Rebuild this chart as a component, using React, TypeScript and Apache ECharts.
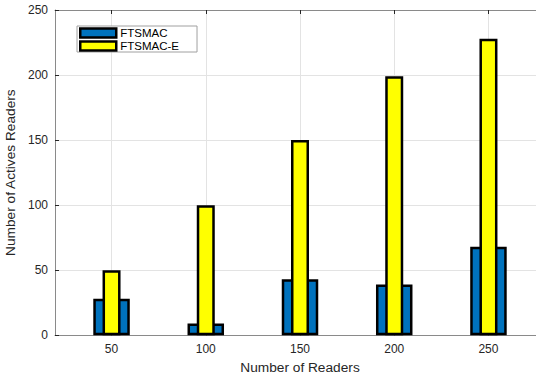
import React, { useEffect, useRef } from "react";
import * as echarts from "echarts";

const readers = [50, 100, 150, 200, 250];
const ftsmac = [28, 9, 43, 39, 68];
const ftsmacE = [50, 100, 150, 199, 228];

const FONT = "'Liberation Sans', Arial, Helvetica, sans-serif";

export default function App() {
  const ref = useRef<HTMLDivElement>(null);
  useEffect(() => {
    if (!ref.current) return;
    const chart = echarts.init(ref.current, null, { renderer: "svg" });
    const axisColor = "#8a8a8a";
    const gridColor = "#e3e3e3";
    chart.setOption({
      animation: false,
      backgroundColor: "#ffffff",
      textStyle: { fontFamily: FONT },
      grid: { left: 55, top: 10, right: -9, bottom: 40.7, containLabel: false, outerBoundsMode: "none" },
      legend: {
        orient: "vertical",
        left: 77,
        top: 26,
        padding: [1, 18, 0, 2],
        itemGap: 1,
        itemWidth: 36,
        itemHeight: 9,
        itemStyle: { borderColor: "#000", borderWidth: 2.5 },
        backgroundColor: "#ffffff",
        borderColor: "#a0a0a0",
        borderWidth: 1,
        borderRadius: 0,
        textStyle: { fontSize: 11.5, color: "#000", fontFamily: FONT, padding: [0, 0, 0, -1] },
        data: [
          { name: "FTSMAC", icon: "rect" },
          { name: "FTSMAC-E", icon: "rect" },
        ],
      },
      xAxis: [
        {
          type: "value",
          min: 20,
          max: 280,
          position: "bottom",
          name: "Number of Readers",
          nameLocation: "middle",
          nameGap: 24,
          nameTextStyle: { fontSize: 13.7, color: "#262626", fontFamily: FONT },
          axisLine: { show: true, lineStyle: { color: axisColor, width: 1 } },
          axisTick: { show: true, inside: true, length: 4, customValues: readers, lineStyle: { color: "#262626" } },
          axisLabel: { customValues: readers, fontSize: 12, color: "#262626", margin: 8, fontFamily: FONT },
          splitLine: { show: true, lineStyle: { color: gridColor, width: 1 } },
        },
        {
          type: "value",
          min: 20,
          max: 280,
          position: "top",
          axisLine: { show: true, lineStyle: { color: axisColor, width: 1 } },
          axisTick: { show: true, inside: true, length: 4, customValues: readers, lineStyle: { color: "#262626" } },
          axisLabel: { show: false, customValues: readers },
          splitLine: { show: false },
        },
      ],
      yAxis: [
        {
          type: "value",
          min: 0,
          max: 250,
          interval: 50,
          name: "Number of Actives Readers",
          nameLocation: "middle",
          nameGap: 28,
          nameTextStyle: { fontSize: 13.7, color: "#262626", fontFamily: FONT },
          axisLine: { show: true, lineStyle: { color: axisColor, width: 1 } },
          axisTick: { show: true, inside: true, length: 4, lineStyle: { color: "#262626" } },
          axisLabel: { fontSize: 12, color: "#262626", margin: 7, fontFamily: FONT },
          splitLine: { show: true, lineStyle: { color: gridColor, width: 1 } },
        },
      ],
      series: [
        {
          name: "FTSMAC",
          type: "bar",
          xAxisIndex: 0,
          barWidth: 36.5,
          data: readers.map((r, i) => [r, ftsmac[i]]),
          itemStyle: { color: "#0072BD", borderColor: "#000", borderWidth: 2.5 },
          z: 2,
        },
        {
          name: "FTSMAC-E",
          type: "bar",
          xAxisIndex: 1,
          barWidth: 18,
          data: readers.map((r, i) => [r, ftsmacE[i]]),
          itemStyle: { color: "#FFFF00", borderColor: "#000", borderWidth: 2.5 },
          z: 3,
        },
      ],
    });
    return () => chart.dispose();
  }, []);
  return <div ref={ref} style={{ width: 536, height: 376, position: "fixed", left: 0, top: 0 }} />;
}
